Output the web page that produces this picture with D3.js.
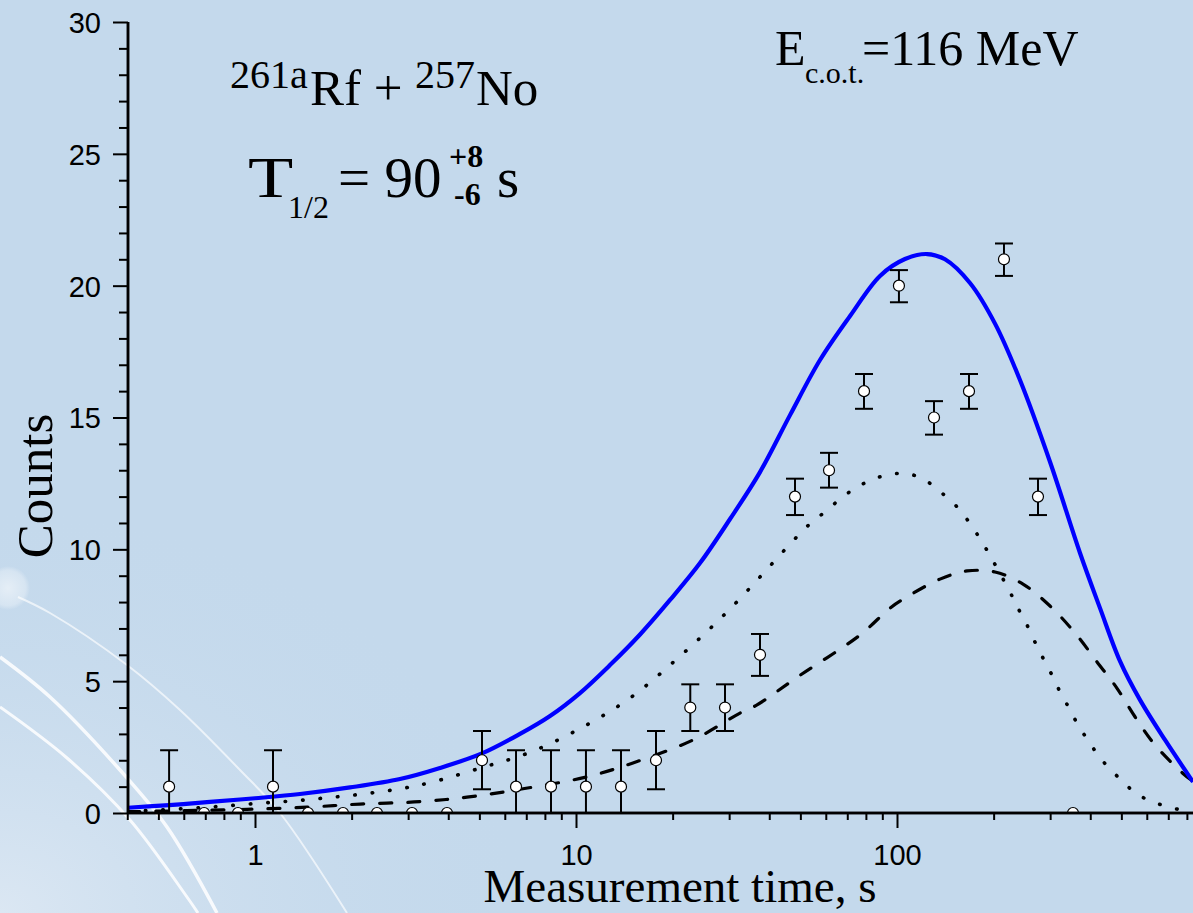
<!DOCTYPE html>
<html>
<head>
<meta charset="utf-8">
<script src="https://cdn.jsdelivr.net/npm/d3@7"></script>
<style>
  html, body { margin: 0; padding: 0; background: #c4d9ec; overflow: hidden; }
  svg { display: block; }
  .serif { font-family: "Liberation Serif", "Times New Roman", serif; fill: #000; }
  .sans { font-family: "Liberation Sans", Arial, sans-serif; fill: #000; }
</style>
</head>
<body>
<svg id="chart" width="1193" height="913"></svg>
<script>
// Measured decay counts per logarithmic time bin
const binTimes = [0.540, 0.694, 0.885, 1.138, 1.463, 1.880, 2.399, 3.084, 3.964, 5.095,
                  6.504, 8.358, 10.74, 13.81, 17.75, 22.70, 29.12, 37.43, 48.11, 61.41,
                  78.93, 101.4, 130.4, 167.6, 215.4, 274.9, 353.4];
const binCounts = [1, 0, 0, 1, 0, 0, 0, 0, 0, 2,
                   1, 1, 1, 1, 2, 4, 4, 6, 12, 13,
                   16, 20, 15, 16, 21, 12, 0];
const errLow  = [0, null, null, 0, null, null, null, null, null, 0.9,
                 0, 0, 0, 0, 0.9, 3.11, 3.11, 5.2, 11.3, 12.34,
                 15.33, 19.37, 14.35, 15.33, 20.37, 11.3, null];
const errHigh = [2.38, null, null, 2.38, null, null, null, null, null, 3.11,
                 2.38, 2.38, 2.38, 2.38, 3.11, 4.88, 4.88, 6.79, 12.68, 13.66,
                 16.65, 20.59, 15.62, 16.65, 21.6, 12.68, null];

// Fitted curves: total (solid), first component (dotted), second component (dashed)
const totalFit = [[0.402, 0.20], [0.540, 0.30], [0.724, 0.42], [1.0, 0.56], [1.381, 0.72],
                  [1.977, 0.97], [2.829, 1.29], [3.770, 1.71], [5.095, 2.26], [6.692, 3.00],
                  [8.30, 3.68], [10.29, 4.55], [12.76, 5.61], [15.83, 6.77], [19.63, 8.08],
                  [24.34, 9.48], [30.19, 11.15], [37.43, 12.93], [46.42, 15.09], [57.56, 17.18],
                  [71.40, 18.85], [88.51, 20.37], [105.9, 21.01], [124.0, 21.2], [141.1, 21.0],
                  [168.8, 20.1], [202.0, 18.56], [241.6, 16.42], [299.8, 13.31], [371.6, 9.86],
                  [429.0, 7.77], [495.1, 5.76], [571.5, 4.29], [683.9, 2.77], [835.9, 1.18]];
const dottedFit = [[0.402, 0.06], [0.674, 0.2], [1.059, 0.38], [1.352, 0.47], [1.713, 0.59],
                   [2.170, 0.72], [2.770, 0.90], [3.510, 1.15], [5.022, 1.70], [7.190, 2.30],
                   [10.29, 3.20], [14.73, 4.36], [20.79, 5.88], [30.19, 7.74], [52.82, 10.90],
                   [60.08, 11.45], [67.89, 12.0], [76.14, 12.4], [86.02, 12.7], [97.17, 12.86],
                   [109.0, 12.86], [123.1, 12.6], [139.1, 12.1], [154.9, 11.57], [170.1, 10.92],
                   [184.0, 10.28], [197.7, 9.63], [224.9, 8.38], [238.2, 7.77], [254.1, 7.13],
                   [269.1, 6.48], [284.9, 5.88], [304.0, 5.23], [321.9, 4.60], [343.5, 3.98],
                   [366.4, 3.34], [396.4, 2.70], [432.0, 2.05], [481.2, 1.44], [539.7, 0.87],
                   [605.2, 0.49], [683.9, 0.27], [772.6, 0.11], [835.9, 0.06]];
const dashedFit = [[0.402, 0.05], [0.614, 0.09], [0.944, 0.14], [1.452, 0.22], [2.124, 0.34],
                   [3.266, 0.43], [4.575, 0.60], [6.692, 0.90], [10.82, 1.37], [15.05, 1.90],
                   [23.15, 2.77], [32.43, 3.79], [36.64, 4.10], [49.14, 5.17], [76.70, 6.75],
                   [95.10, 7.77], [105.9, 8.15], [136.1, 8.87], [165.3, 9.18], [202.0, 9.14],
                   [246.9, 8.68], [299.8, 7.85], [358.5, 6.83], [419.9, 5.73], [484.7, 4.73],
                   [551.3, 3.65], [636.4, 2.58], [778.0, 1.50], [835.9, 1.2]];

// Axis ticks
const xMajorTicks = [1, 10, 100];
const xMinorTicks = [0.4, 0.5, 0.6, 0.7, 0.8, 0.9, 2, 3, 4, 5, 6, 7, 8, 9,
                     20, 30, 40, 50, 60, 70, 80, 90, 200, 300, 400, 500, 600, 700, 800, 900];
const yMajorTicks = [0, 5, 10, 15, 20, 25, 30];
const yMinorTicks = d3.range(0, 31);

const W = 1193, H = 913;
const svg = d3.select("#chart");

// ----- background decoration -----
const defs = svg.append("defs");
const haze = defs.append("radialGradient").attr("id", "haze")
  .attr("cx", 0).attr("cy", 1).attr("r", 0.45);
haze.append("stop").attr("offset", 0).attr("stop-color", "#dbe7f3");
haze.append("stop").attr("offset", 1).attr("stop-color", "#c4d9ec").attr("stop-opacity", 0);
const glow = defs.append("radialGradient").attr("id", "glow");
glow.append("stop").attr("offset", 0).attr("stop-color", "#ffffff").attr("stop-opacity", 0.55);
glow.append("stop").attr("offset", 0.8).attr("stop-color", "#ffffff").attr("stop-opacity", 0.3);
glow.append("stop").attr("offset", 1).attr("stop-color", "#ffffff").attr("stop-opacity", 0);

svg.append("rect").attr("width", W).attr("height", H).attr("fill", "#c4d9ec");
svg.append("rect").attr("width", W).attr("height", H).attr("fill", "url(#haze)");

const deco = svg.append("g").attr("fill", "none").attr("stroke", "#ffffff");
const curve = d3.line().curve(d3.curveCatmullRom);
deco.append("path").attr("d", curve([[18, 597], [50, 613], [127, 665], [180, 710], [240, 770], [280, 813], [347, 913]]))
  .attr("stroke-width", 2).attr("stroke-opacity", 0.65);
deco.append("path").attr("d", curve([[0, 657], [50, 697], [120, 770], [167, 827], [217, 913]]))
  .attr("stroke-width", 3.5).attr("stroke-opacity", 0.85);
deco.append("path").attr("d", curve([[0, 707], [67, 758], [130, 820], [187, 897], [198, 913]]))
  .attr("stroke-width", 3).attr("stroke-opacity", 0.85);
svg.append("circle").attr("cx", 8).attr("cy", 588).attr("r", 22).attr("fill", "url(#glow)");

// ----- scales -----
const xLeft = 128, xOne = 255, decade = 321;
const x = d3.scaleLog().domain([0.4, 1000])
  .range([xOne + decade * Math.log10(0.4), xOne + decade * 3]);
const y = d3.scaleLinear().domain([0, 30]).range([813, 22]);

const plotClip = defs.append("clipPath").attr("id", "plot");
plotClip.append("rect").attr("x", x(0.4)).attr("y", 0).attr("width", W).attr("height", y(0));

// ----- fit curves -----
const line = d3.line().x(d => x(d[0])).y(d => y(d[1])).curve(d3.curveCatmullRom.alpha(0.5));
const curves = svg.append("g").attr("clip-path", "url(#plot)").attr("fill", "none");
curves.append("path").attr("d", line(dottedFit))
  .attr("stroke", "#000").attr("stroke-width", 3.6).attr("stroke-linecap", "round")
  .attr("stroke-dasharray", "0.5 17");
curves.append("path").attr("d", line(dashedFit))
  .attr("stroke", "#000").attr("stroke-width", 3.2).attr("stroke-linecap", "round")
  .attr("stroke-dasharray", "12 16");
curves.append("path").attr("d", line(totalFit))
  .attr("stroke", "#0000ff").attr("stroke-width", 4.2);

// ----- data points with error bars -----
const pts = binTimes.map((t, i) => ({ t, n: binCounts[i], lo: errLow[i], hi: errHigh[i] }));
const bars = svg.append("g").attr("stroke", "#000").attr("stroke-width", 2);
pts.filter(d => d.lo !== null).forEach(d => {
  const cx = x(d.t);
  bars.append("line").attr("x1", cx).attr("x2", cx).attr("y1", y(d.lo)).attr("y2", y(d.hi));
  bars.append("line").attr("x1", cx - 9).attr("x2", cx + 9).attr("y1", y(d.hi)).attr("y2", y(d.hi));
  bars.append("line").attr("x1", cx - 9).attr("x2", cx + 9).attr("y1", y(d.lo)).attr("y2", y(d.lo));
});
svg.append("g").attr("clip-path", "url(#plot)")
  .selectAll("circle").data(pts).join("circle")
  .attr("cx", d => x(d.t)).attr("cy", d => y(d.n)).attr("r", 5.5)
  .attr("fill", "#fff").attr("stroke", "#000").attr("stroke-width", 1.2);

// ----- axes -----
const yAxisG = svg.append("g").attr("transform", `translate(${xLeft},0)`);
yAxisG.call(d3.axisLeft(y).tickValues(yMinorTicks).tickSize(9).tickFormat(""));
yAxisG.call(g => g.selectAll(".tick").filter(d => yMajorTicks.includes(d)).remove());
const yMajG = svg.append("g").attr("transform", `translate(${xLeft},0)`)
  .call(d3.axisLeft(y).tickValues(yMajorTicks).tickSize(15).tickPadding(12).tickFormat(d3.format("d")));
[yAxisG, yMajG].forEach(g => {
  g.select(".domain").attr("stroke-width", 2.5).attr("d", `M0,${y(30)}V${y(0)}`);
  g.selectAll(".tick line").attr("stroke-width", 2);
});
yMajG.selectAll(".tick text").attr("class", "sans").attr("font-size", 29).attr("dy", "0.36em");

const xAxisG = svg.append("g").attr("transform", `translate(0,${y(0)})`)
  .call(d3.axisBottom(x).tickValues(xMinorTicks).tickSize(7).tickFormat(""));
const xMajG = svg.append("g").attr("transform", `translate(0,${y(0)})`)
  .call(d3.axisBottom(x).tickValues(xMajorTicks).tickSize(15).tickPadding(16).tickFormat(d3.format("d")));
[xAxisG, xMajG].forEach(g => {
  g.select(".domain").attr("stroke-width", 2.5).attr("d", `M${x(0.4)},0H${x(1000)}`);
  g.selectAll(".tick line").attr("stroke-width", 2);
});
xMajG.selectAll(".tick text").attr("class", "sans").attr("font-size", 29).attr("dy", "0.71em");
svg.selectAll(".domain").attr("stroke", "#000");
svg.selectAll(".tick line").attr("stroke", "#000");

// ----- axis titles -----
svg.append("text").attr("class", "serif").attr("font-size", 51)
  .attr("transform", "translate(52,486) rotate(-90)").attr("text-anchor", "middle")
  .text("Counts");
svg.append("text").attr("class", "serif").attr("font-size", 47)
  .attr("x", 680).attr("y", 902).attr("text-anchor", "middle")
  .text("Measurement time, s");

// ----- annotations -----
const t1 = svg.append("text").attr("class", "serif");
t1.append("tspan").attr("x", 230).attr("y", 88).attr("font-size", 40).text("261a");
t1.append("tspan").attr("x", 310).attr("y", 105).attr("font-size", 51).text("Rf + ");
t1.append("tspan").attr("x", 415).attr("y", 88).attr("font-size", 40).text("257");
t1.append("tspan").attr("x", 476).attr("y", 105).attr("font-size", 51).text("No");

// T is drawn slightly widened, as in the original typesetting
svg.append("text").attr("class", "serif").attr("font-size", 57)
  .attr("transform", "translate(248,197) scale(1.3,1)").text("T");
const t2 = svg.append("text").attr("class", "serif");
t2.append("tspan").attr("x", 288).attr("y", 218).attr("font-size", 32).text("1/2");
t2.append("tspan").attr("x", 338).attr("y", 197).attr("font-size", 57).text("= 90");
t2.append("tspan").attr("x", 449).attr("y", 167).attr("font-size", 32).attr("font-weight", "bold").text("+8");
t2.append("tspan").attr("x", 454).attr("y", 205).attr("font-size", 32).attr("font-weight", "bold").text("-6");
t2.append("tspan").attr("x", 497).attr("y", 197).attr("font-size", 57).text("s");

const t3 = svg.append("text").attr("class", "serif");
t3.append("tspan").attr("x", 775).attr("y", 65).attr("font-size", 50).text("E");
t3.append("tspan").attr("x", 805).attr("y", 83).attr("font-size", 30).text("c.o.t.");
t3.append("tspan").attr("x", 862).attr("y", 65).attr("font-size", 50).text("=116 MeV");
</script>
</body>
</html>
